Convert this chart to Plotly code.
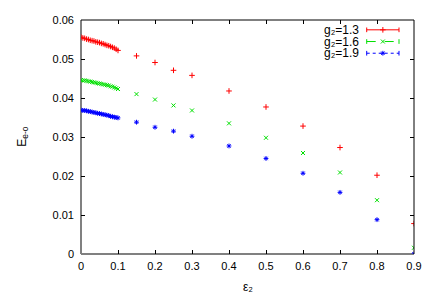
import plotly.graph_objects as go

# ---- data ----
eps_dense = [0.000, 0.005, 0.010, 0.015, 0.020, 0.025, 0.030, 0.035, 0.040, 0.045, 0.050,
             0.055, 0.060, 0.065, 0.070, 0.075, 0.080, 0.085, 0.090, 0.095, 0.100]
eps_sparse = [0.15, 0.2, 0.25, 0.3, 0.4, 0.5, 0.6, 0.7, 0.8, 0.9]
eps2 = eps_dense + eps_sparse

e_g13 = [0.0556, 0.0554, 0.0553, 0.0551, 0.0550, 0.0548, 0.0547, 0.0546, 0.0544, 0.0543, 0.0542,
         0.0540, 0.0539, 0.0537, 0.0535, 0.0534, 0.0532, 0.0530, 0.0528, 0.0525, 0.0522,
         0.0508, 0.0491, 0.0471, 0.0458, 0.0418, 0.0377, 0.0328, 0.0273, 0.0202, 0.0078]
e_g16 = [0.0446, 0.0445, 0.0445, 0.0444, 0.0443, 0.0442, 0.0441, 0.0440, 0.0439, 0.0438, 0.0437,
         0.0436, 0.0435, 0.0434, 0.0433, 0.0432, 0.0430, 0.0429, 0.0427, 0.0425, 0.0423,
         0.0410, 0.0396, 0.0381, 0.0368, 0.0335, 0.0298, 0.0259, 0.0209, 0.0138, 0.0016]
e_g19 = [0.0369, 0.0368, 0.0368, 0.0367, 0.0366, 0.0365, 0.0364, 0.0363, 0.0362, 0.0361, 0.0360,
         0.0359, 0.0358, 0.0357, 0.0356, 0.0355, 0.0353, 0.0352, 0.0351, 0.0350, 0.0349,
         0.0338, 0.0325, 0.0315, 0.0302, 0.0277, 0.0245, 0.0207, 0.0158, 0.0088, 0.0000]

series = [
    ("g₂=1.3", e_g13, "#ff0000", "cross-thin-open", "solid"),
    ("g₂=1.6", e_g16, "#00e000", "x-thin-open", "dash"),
    ("g₂=1.9", e_g19, "#0000ff", "asterisk-open", "dot"),
]
x_ticks = [0, 0.1, 0.2, 0.3, 0.4, 0.5, 0.6, 0.7, 0.8, 0.9]
y_ticks = [0, 0.01, 0.02, 0.03, 0.04, 0.05, 0.06]

FONT = "Liberation Sans, Arial, sans-serif"
fig = go.Figure()

for name, ys, col, sym, dash in series:
    fig.add_trace(go.Scatter(
        x=eps2, y=ys, mode="markers", name=name, showlegend=False,
        marker=dict(symbol=sym, size=4, color=col, line=dict(color=col, width=1)),
    ))

# ---- legend (text left, sample right, gnuplot-style) ----
leg_rows = [0.958, 0.908, 0.858]
xl0, xl1 = 0.858, 0.955
shapes = []
annotations = []
for (name, ys, col, sym, dash), yr in zip(series, leg_rows):
    annotations.append(dict(x=0.837, y=yr, xref="paper", yref="paper", text=name,
                            showarrow=False, xanchor="right", yanchor="middle", borderpad=0,
                            font=dict(family=FONT, size=12, color="black")))
    shapes.append(dict(type="line", xref="paper", yref="paper", x0=xl0, x1=xl1, y0=yr, y1=yr,
                       line=dict(color=col, width=1, dash=dash)))
    for xe in (xl0, xl1):
        shapes.append(dict(type="line", xref="paper", yref="paper", x0=xe, x1=xe,
                           y0=yr - 0.01, y1=yr + 0.01, line=dict(color=col, width=1)))
    fig.add_trace(go.Scatter(
        x=[(xl0 + xl1) / 2], y=[yr], xaxis="x2", yaxis="y2", mode="markers",
        showlegend=False, hoverinfo="skip",
        marker=dict(symbol=sym, size=4, color=col, line=dict(color=col, width=1)),
    ))

# top and right borders (black)
shapes.append(dict(type="line", xref="paper", yref="paper", x0=0, x1=1, y0=1, y1=1,
                   line=dict(color="black", width=1)))
shapes.append(dict(type="line", xref="paper", yref="paper", x0=1, x1=1, y0=0, y1=1,
                   line=dict(color="black", width=1)))

# axis titles
annotations.append(dict(x=0.5, y=-0.105, xref="paper", yref="paper", text="ε₂",
                        showarrow=False, xanchor="center", yanchor="top", borderpad=0,
                        font=dict(family=FONT, size=12, color="black")))
annotations.append(dict(x=-0.175, y=0.5, xref="paper", yref="paper", text="E<sub>e-o</sub>",
                        showarrow=False, textangle=-90, xanchor="center", yanchor="middle",
                        font=dict(family=FONT, size=12, color="black")))

# page body has an 8px margin: figure is offset by (8, 8)
fig.update_layout(
    width=420, height=289,
    margin=dict(l=73, r=10, t=6, b=43),
    plot_bgcolor="white", paper_bgcolor="white",
    font=dict(family=FONT, size=11, color="black"),
    showlegend=False,
    shapes=shapes, annotations=annotations,
    xaxis=dict(range=[0, 0.9], tickvals=x_ticks, ticktext=[f"{v:g}" for v in x_ticks],
               showgrid=False, showline=False, zeroline=True, zerolinecolor="#808080",
               zerolinewidth=2, ticks="inside", ticklen=4, tickcolor="black",
               mirror="ticks", ticklabelstandoff=4, ticklabeloverflow="allow"),
    yaxis=dict(range=[0, 0.06], tickvals=y_ticks, ticktext=[f"{v:g}" for v in y_ticks],
               showgrid=False, showline=False, zeroline=True, zerolinecolor="#808080",
               zerolinewidth=2, ticks="inside", ticklen=4, tickcolor="black",
               mirror="ticks", ticklabelstandoff=6, ticklabeloverflow="allow"),
    xaxis2=dict(overlaying="x", range=[0, 1], visible=False, fixedrange=True),
    yaxis2=dict(overlaying="y", range=[0, 1], visible=False, fixedrange=True),
)

fig.write_html("out.html")
